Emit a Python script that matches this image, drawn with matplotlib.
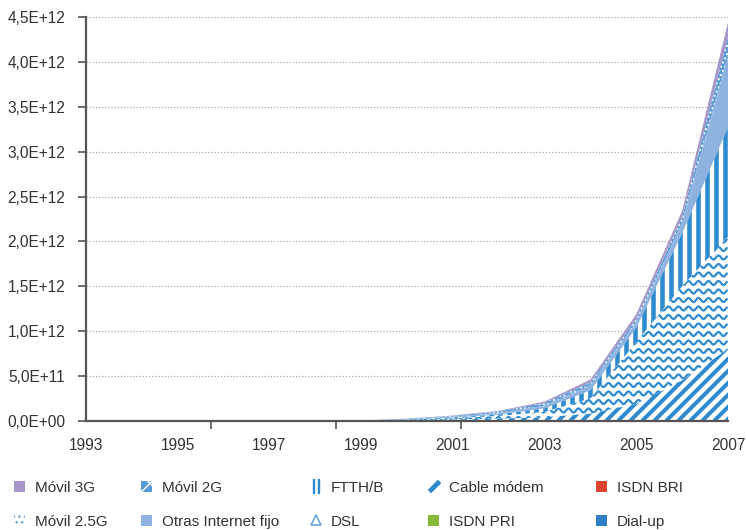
import numpy as np
import matplotlib
matplotlib.use("Agg")
import matplotlib.pyplot as plt
from matplotlib.collections import LineCollection
from matplotlib.patches import Patch
from matplotlib.lines import Line2D
from matplotlib.ticker import FuncFormatter, FixedLocator

plt.rcParams['font.family'] = ['Liberation Sans', 'DejaVu Sans']

years = list(range(1993, 2008))
# valores en miles de millones (1E+09), 1993..2007
dial_up   = [0, 0, 0, 0, 0, 0, 1, 4, 6, 8, 10, 10, 8, 6, 5]
isdn_bri  = [0, 0, 0, 0, 0, 0, 0.2, 0.5, 0.6, 0.7, 0.8, 0.8, 0.8, 0.7, 0.6]
isdn_pri  = [0, 0, 0, 0, 0, 0, 0.2, 0.5, 0.6, 0.7, 0.8, 0.8, 0.8, 0.7, 0.6]
cable     = [0, 0, 0, 0, 0, 0, 1, 4, 8, 17, 30, 70, 180, 444, 795]
dsl       = [0, 0, 0, 0, 0, 0, 1, 6, 16, 30, 60, 170, 690, 1050, 1250]
ftth      = [0, 0, 0, 0, 0, 0, 0.5, 2, 7, 15, 40, 90, 160, 590, 1220]
otras     = [0, 0, 0, 0, 0, 0, 0.5, 3, 8, 15, 25, 50, 60, 110, 780]
movil_2g  = [0, 0, 0, 0, 0, 0, 0.3, 2, 3, 3, 5, 10, 5, 10, 20]
movil_25g = [0, 0, 0, 0, 0, 0, 0.2, 3, 9, 17, 30, 30, 35, 60, 210]
movil_3g  = [0, 0, 0, 0, 0, 0, 0.1, 1, 3, 7, 15, 30, 50, 70, 160]

xtick_years = list(range(1993, 2008, 2))
axis_ticks = [1993, 1995.73, 1998.45, 2001.18]

BLUE = '#2f8bcf'
PURPLE = '#a797c9'
LIGHT = '#8fb3e0'

W, H = 746, 530
fig = plt.figure(figsize=(W / 100, H / 100), dpi=100)
ax_l, ax_r, ax_t, ax_b = 86, 728, 17, 421
ax = fig.add_axes([ax_l / W, 1 - ax_b / H, (ax_r - ax_l) / W, (ax_b - ax_t) / H])
aw, ah = ax_r - ax_l, ax_b - ax_t

ax.set_xlim(1993, 2007)
ax.set_ylim(0, 4.5e12)

series = [dial_up, isdn_bri, isdn_pri, cable, dsl, ftth, otras, movil_2g, movil_25g, movil_3g]
vals = np.array(series, dtype=float) * 1e9
tops = np.cumsum(vals, axis=0)
bots = np.vstack([np.zeros(len(years)), tops[:-1]])


def layer(i, **kw):
    return ax.fill_between(years, bots[i], tops[i], linewidth=0, zorder=2, **kw)


def clipped(coll, segs, lw):
    # segmentos en pixeles del eje -> fraccion de eje
    segs = [np.column_stack([s[:, 0] / aw, s[:, 1] / ah]) for s in segs]
    lc = LineCollection(segs, colors=BLUE, linewidths=lw, transform=ax.transAxes, zorder=2.5)
    lc.set_clip_path(coll.get_paths()[0], ax.transData)
    ax.add_collection(lc)


# Dial-up, ISDN
layer(0, facecolor='#2e7fc4')
layer(1, facecolor='#d9452f')
layer(2, facecolor='#86b93a')

# Cable modem: diagonales
c = layer(3, facecolor='white')
segs = [np.array([[x0, 0], [x0 + ah, ah]]) for x0 in np.arange(-ah, aw, 12)]
clipped(c, segs, 2.9)

# DSL: ondas
c = layer(4, facecolor='white')
xx = np.arange(0, aw, 0.5)
segs = [np.column_stack([xx, y0 + 2.0 * np.sin(2 * np.pi * xx / 10)]) for y0 in np.arange(2, ah, 8.5)]
clipped(c, segs, 1.6)

# FTTH/B: verticales
c = layer(5, facecolor='white')
segs = [np.array([[x0, 0], [x0, ah]]) for x0 in np.arange(0, aw, 9)]
clipped(c, segs, 3.3)

layer(6, facecolor=LIGHT)
plt.rcParams['hatch.linewidth'] = 1.0
layer(7, facecolor='#5a9bd5', edgecolor='white', hatch='xx')
layer(8, facecolor='#5a9bd5', edgecolor='white', hatch='....')
layer(9, facecolor=PURPLE)

# ejes
for s in ['top', 'right']:
    ax.spines[s].set_visible(False)
for s in ['left', 'bottom']:
    ax.spines[s].set_color('#555555')
    ax.spines[s].set_linewidth(1.6)
    ax.spines[s].set_zorder(3)

ax.yaxis.set_major_locator(FixedLocator(np.arange(0, 4.6e12, 0.5e12)))
ax.yaxis.set_major_formatter(FuncFormatter(lambda v, p: f"{v:.1E}".replace('.', ',')))
ax.tick_params(axis='y', direction='out', length=6, width=1.2, color='#555555',
               labelsize=11.2, labelcolor='#333333', pad=9)
ax.set_xticks(xtick_years)
ax.set_xticklabels([str(y) for y in xtick_years])
ax.xaxis.set_minor_locator(FixedLocator(axis_ticks))
ax.tick_params(axis='x', which='major', length=0, labelsize=11.2, labelcolor='#333333', pad=12)
ax.tick_params(axis='x', which='minor', direction='out', length=6, width=1.2, color='#555555')
ax.grid(axis='y', color='#aaaaaa', linestyle=(0, (1, 1.5)), linewidth=0.9)
ax.set_axisbelow(True)

# leyenda en 5 columnas
handles = {
    'Móvil 3G': Patch(facecolor=PURPLE, linewidth=0),
    'Móvil 2.5G': Patch(facecolor='white', edgecolor='#6aa5da', hatch='...', linewidth=0),
    'Móvil 2G': Patch(facecolor='#5a9bd5', edgecolor='white', hatch='xx', linewidth=0),
    'Otras Internet fijo': Patch(facecolor=LIGHT, linewidth=0),
    'FTTH/B': Line2D([], [], ls='none', marker=r'$\mathbf{||}$', markersize=10,
                     markeredgecolor=BLUE, markerfacecolor=BLUE),
    'DSL': Line2D([], [], ls='none', marker='^', markersize=7, markerfacecolor='none',
                  markeredgecolor='#6aa5da', markeredgewidth=1.2),
    'Cable módem': Line2D([], [], ls='none', marker=(2, 2, -45), markersize=10,
                          markeredgecolor=BLUE, markeredgewidth=3),
    'ISDN PRI': Patch(facecolor='#86b93a', linewidth=0),
    'ISDN BRI': Patch(facecolor='#d9452f', linewidth=0),
    'Dial-up': Patch(facecolor='#2e7fc4', linewidth=0),
}
columns = [('Móvil 3G', 'Móvil 2.5G'), ('Móvil 2G', 'Otras Internet fijo'),
           ('FTTH/B', 'DSL'), ('Cable módem', 'ISDN PRI'), ('ISDN BRI', 'Dial-up')]
col_x = [14, 141, 310, 428, 596]
for x0, labs in zip(col_x, columns):
    fig.legend([handles[l] for l in labs], list(labs), loc='upper left',
               bbox_to_anchor=(x0 / W, 1 - 480.5 / H), frameon=False, fontsize=11,
               handlelength=0.75, handleheight=0.75, handletextpad=0.6,
               borderpad=0, borderaxespad=0, labelspacing=1.32, labelcolor='#333333')

fig.savefig('out.png', dpi=100)
